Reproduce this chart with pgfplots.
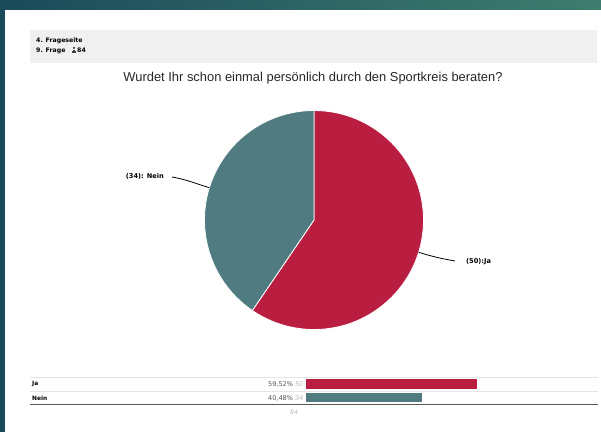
\documentclass[border=0pt]{standalone}
\usepackage{pgfplots}
\pgfplotsset{compat=1.18}
\usepackage{pgfplotstable}
\usepackage{fontspec}
\setmainfont{Liberation Sans}
\newfontfamily\labfont{DejaVu Sans}

\definecolor{jared}{RGB}{185,30,64}
\definecolor{neinteal}{RGB}{80,123,128}
\definecolor{bgdark}{RGB}{27,74,90}
\definecolor{bgright}{RGB}{62,125,110}
\definecolor{headgray}{RGB}{240,240,240}
\definecolor{txtgray}{RGB}{85,85,85}
\definecolor{lightnum}{RGB}{185,185,185}

% answers: count and share in percent
\pgfplotstableread{
label count pct
Ja    50    59.52
Nein  34    40.48
}\answers

\pgfplotstablegetelem{0}{count}\of\answers
\let\nJa\pgfplotsretval
\pgfplotstablegetelem{1}{count}\of\answers
\let\nNein\pgfplotsretval

\begin{document}
\begin{tikzpicture}
\pgfmathsetmacro\total{\nJa+\nNein}
\pgfmathsetmacro\angJa{360*(\nJa/\total)}
\pgfmathsetmacro\angNein{360*(\nNein/\total)}
\pgfmathsetmacro\endJa{90-\angJa}
\pgfmathsetmacro\midJa{90-\angJa/2}
\pgfmathsetmacro\midNein{90-\angJa-\angNein/2}

% page frame, in pixel coordinates (y downwards)
\begin{scope}[x=1pt,y=-1pt]
\fill[white] (0,0) rectangle (601,432);
\shade[left color=bgdark, right color=bgright] (0,0) rectangle (601,9);
\fill[bgdark] (0,9) rectangle (5,432);
\fill[headgray] (30,30) rectangle (597,63);
\node[anchor=west, font=\labfont\bfseries\fontsize{6.2}{7}\selectfont, inner sep=0pt] at (36,40.8) {4. Frageseite};
\node[anchor=west, font=\labfont\bfseries\fontsize{6.2}{7}\selectfont, inner sep=0pt] at (36,50.4) {9. Frage};
% small person icon
\fill[black!75] (74,47.9) circle (1.2);
\fill[black!75] (72.2,53) rectangle (75.8,51.3);
\fill[black!75] (73,51.6) rectangle (75,49.8);
\node[anchor=west, font=\labfont\bfseries\fontsize{6.2}{7}\selectfont, inner sep=0pt] at (77,50.4) {84};
\node[font=\fontsize{12.9}{15}\selectfont, text=black!85, inner sep=0pt] at (313,78) {Wurdet Ihr schon einmal persönlich durch den Sportkreis beraten?};
% table lines
\draw[black!10, line width=0.6pt] (30,377.3) -- (598,377.3);
\draw[black!10, line width=0.6pt] (30,390.8) -- (598,390.8);
\draw[black!65, line width=0.9pt] (30,404.3) -- (598,404.3);
\node[anchor=west, font=\labfont\bfseries\fontsize{5.9}{6}\selectfont, inner sep=0pt] at (32,384.3) {Ja};
\node[anchor=west, font=\labfont\bfseries\fontsize{5.9}{6}\selectfont, inner sep=0pt] at (32,398.0) {Nein};
\node[anchor=east, font=\labfont\fontsize{6.5}{7}\selectfont, inner sep=0pt] at (303.5,384.3)
  {\textcolor{txtgray}{59,52\%} \textcolor{lightnum}{\itshape 50}};
\node[anchor=east, font=\labfont\fontsize{6.5}{7}\selectfont, inner sep=0pt] at (303.5,398.0)
  {\textcolor{txtgray}{40,48\%} \textcolor{lightnum}{\itshape 34}};
\node[font=\labfont\itshape\fontsize{6}{7}\selectfont, text=lightnum, inner sep=0pt] at (294,412.5) {84};
\end{scope}

% pie
\begin{axis}[
    at={(314pt,-220pt)}, anchor=center,
    x=1pt, y=1pt,
    xmin=-112, xmax=112, ymin=-112, ymax=112,
    hide axis, scale only axis, clip=false,
]
\fill[jared, draw=white, line width=0.8pt]
  (axis cs:0,0) -- (axis cs:0,109.5) arc[start angle=90, end angle=\endJa, radius=109.5pt] -- cycle;
\fill[neinteal, draw=white, line width=0.8pt]
  (axis cs:0,0) -- ({109.5*cos(\endJa)},{109.5*sin(\endJa)}) arc[start angle=\endJa, end angle=-270, radius=109.5pt] -- cycle;
\draw[black, line width=0.8pt] ({109.5*cos(\midJa)},{109.5*sin(\midJa)}) to[out=\midJa, in=170] (141,-41);
\draw[black, line width=0.8pt] ({109.5*cos(\midNein)},{109.5*sin(\midNein)}) to[out=\midNein, in=-10] (-142,43);
\node[anchor=west, font=\labfont\bfseries\fontsize{6.6}{7}\selectfont, inner sep=0pt] at (152,-42) {(50):Ja};
\node[anchor=east, font=\labfont\bfseries\fontsize{6.6}{7}\selectfont, inner sep=0pt] at (-150,44) {(34): Nein};
\end{axis}

% bars
\begin{axis}[
    at={(306pt,-377.3pt)}, anchor=north west,
    xbar, bar shift=0pt, bar width=9.5pt,
    scale only axis, width=287.3pt, height=27pt,
    xmin=0, xmax=100, ymin=0.5, ymax=2.5, y dir=reverse,
    hide axis, clip=false,
]
\addplot[fill=jared, draw=none] coordinates {(59.52,1)};
\addplot[fill=neinteal, draw=none] coordinates {(40.48,2)};
\end{axis}
\end{tikzpicture}
\end{document}
